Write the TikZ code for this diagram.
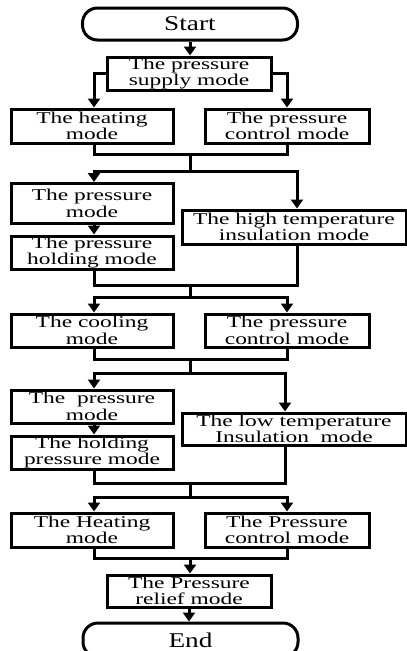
\documentclass[tikz,border=0pt]{standalone}
\usepackage{fontspec}
\setmainfont{Liberation Serif}[FakeStretch=1.42]
\newfontfamily\bigfont{Liberation Serif}[FakeStretch=1.3]
\usetikzlibrary{arrows.meta}
\begin{document}
\begin{tikzpicture}[x=1pt,y=-1pt,
  line width=3pt,
  box/.style={draw,rectangle,inner sep=0pt,align=center,font=\fontsize{16.5}{16.5}\selectfont},
  wbox/.style={box,minimum width=162pt,minimum height=33pt},
  xbox/.style={box,minimum width=224pt,minimum height=33pt},
  term/.style={draw,rectangle,rounded corners=15pt,minimum width=215pt,minimum height=32pt,inner sep=0pt,font=\bigfont\fontsize{21}{21}\selectfont},
  arr/.style={-{Triangle[width=12pt,length=9pt]}}]
\useasboundingbox (0,0) rectangle (407,651);
\fill[white] (0,0) rectangle (407,651);
% nodes
\node[term] (start) at (190,24) {Start};
\node[box,minimum width=164pt,minimum height=33pt] (supply) at (189,73.5) {The pressure\\supply mode};
\node[wbox,minimum height=34pt] (heat1) at (92,126) {The heating\\mode};
\node[wbox,minimum width=164pt,minimum height=34pt] (ctrl1) at (287,126) {The pressure\\control mode};
\node[wbox,minimum height=40pt] (pmode1) at (92,203.5) {The pressure\\mode};
\node[wbox] (hold1) at (92,252.5) {The pressure\\holding mode};
\node[xbox,minimum height=34pt] (high) at (294,227) {The high temperature\\insulation mode};
\node[wbox] (cool) at (92,330.5) {The cooling\\mode};
\node[wbox,minimum width=164pt] (ctrl2) at (287,330.5) {The pressure\\control mode};
\node[wbox] (pmode2) at (92,406.5) {The~ pressure\\mode};
\node[wbox] (hold2) at (92,452.5) {The holding\\pressure mode};
\node[xbox,minimum height=32pt] (low) at (294,429) {The low temperature\\Insulation~ mode};
\node[wbox,minimum height=34pt] (heat3) at (92,530) {The Heating\\mode};
\node[wbox,minimum width=164pt,minimum height=34pt] (ctrl3) at (287,530) {The Pressure\\control mode};
\node[box,minimum width=164pt,minimum height=32pt] (relief) at (189,591) {The Pressure\\relief mode};
\node[term,minimum height=34pt] (end) at (190.5,640) {End};
% junction coordinates
\coordinate (m1) at (190,154);
\coordinate (s1) at (190,171);
\coordinate (m2) at (190,285);
\coordinate (s2) at (190,297);
\coordinate (m3) at (190,359);
\coordinate (s3) at (190,373);
\coordinate (m4) at (190,483);
\coordinate (s4) at (190,497);
\coordinate (m5) at (190,558);
% connectors
\draw[arr] (start.south) -- (start.south |- supply.north);
\draw[arr] (supply.west) -| ([xshift=2pt]heat1.north);
\draw[arr] (supply.east) -| (ctrl1.north);
\draw ([xshift=2pt]heat1.south) |- (m1) -| (ctrl1.south);
\draw (m1) -- (s1);
\draw[arr] (s1) -| ([xshift=2pt]pmode1.north);
\draw[arr] (s1) -| ([xshift=3pt]high.north);
\draw[arr] ([xshift=2pt]pmode1.south) -- ([xshift=2pt]hold1.north);
\draw ([xshift=2pt]hold1.south) |- (m2) -| ([xshift=3pt]high.south);
\draw (m2) -- (s2);
\draw[arr] (s2) -| ([xshift=2pt]cool.north);
\draw[arr] (s2) -| (ctrl2.north);
\draw ([xshift=2pt]cool.south) |- (m3) -| (ctrl2.south);
\draw (m3) -- (s3);
\draw[arr] (s3) -| ([xshift=2pt]pmode2.north);
\draw[arr] (s3) -| ([xshift=-9pt]low.north);
\draw[arr] ([xshift=2pt]pmode2.south) -- ([xshift=2pt]hold2.north);
\draw ([xshift=2pt]hold2.south) |- (m4) -| ([xshift=-9pt]low.south);
\draw (m4) -- (s4);
\draw[arr] (s4) -| ([xshift=2pt]heat3.north);
\draw[arr] (s4) -| (ctrl3.north);
\draw ([xshift=2pt]heat3.south) |- (m5) -| (ctrl3.south);
\draw[arr] (m5) -- (m5 |- relief.north);
\draw[arr] (relief.south) -- (relief.south |- end.north);
\end{tikzpicture}
\end{document}
